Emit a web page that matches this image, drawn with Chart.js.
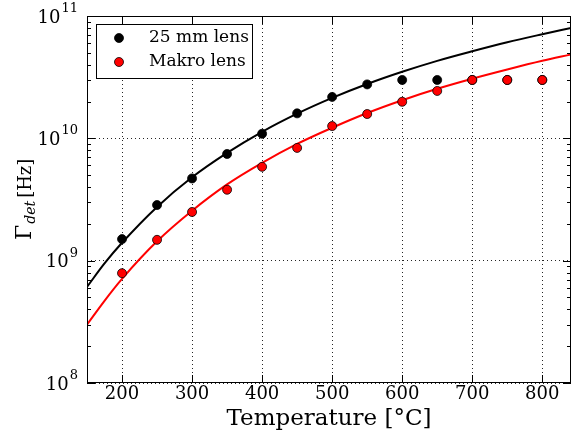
<!DOCTYPE html>
<html>
<head>
<meta charset="utf-8">
<script src="https://cdn.jsdelivr.net/npm/chart.js@4"></script>
<style>
  html, body { margin: 0; padding: 0; background: #fff; }
</style>
</head>
<body>
<canvas id="chart" width="572" height="436"></canvas>
<script>
// measured points
const temps = [200, 250, 300, 350, 400, 450, 500, 550, 600, 650, 700, 750, 800];
const lens25 = [1.5e9, 2.85e9, 4.7e9, 7.45e9, 1.09e10, 1.6e10, 2.18e10, 2.76e10, 3.0e10, 3.0e10, 3.0e10, 3.0e10, 3.0e10];
const makro = [7.9e8, 1.48e9, 2.5e9, 3.8e9, 5.85e9, 8.35e9, 1.26e10, 1.58e10, 1.99e10, 2.44e10, 3.0e10, 3.0e10, 3.0e10];

// fitted curves
const fitT = [150, 175, 200, 250, 300, 350, 400, 450, 500, 550, 600, 650, 700, 750, 800, 841];
const fit25 = [6.1e8, 9.5e8, 1.4e9, 2.75e9, 4.8e9, 7.6e9, 1.13e10, 1.59e10, 2.14e10, 2.78e10, 3.5e10, 4.3e10, 5.15e10, 6.1e10, 7.1e10, 8.0e10];
const fitMakro = [3.0e8, 4.7e8, 7.1e8, 1.44e9, 2.56e9, 4.2e9, 6.3e9, 9.0e9, 1.22e10, 1.61e10, 2.05e10, 2.54e10, 3.07e10, 3.65e10, 4.3e10, 4.85e10];

const xTicks = [200, 300, 400, 500, 600, 700, 800];
const yTicks = [1e8, 1e9, 1e10, 1e11];
const legendLabels = ["25 mm lens", "Makro lens"];

const serif = "'DejaVu Serif', serif";
const pts = (xs, ys) => xs.map((x, i) => ({ x: x, y: ys[i] }));

// frame, inward ticks, y tick labels, legend box and y title
const decorations = {
  id: "decorations",
  afterDraw(chart) {
    const { ctx, chartArea: a, scales: { x, y } } = chart;
    ctx.save();
    ctx.strokeStyle = "#000";
    ctx.lineWidth = 1;
    ctx.strokeRect(a.left + 0.5, a.top + 0.5, a.right - a.left - 1, a.bottom - a.top - 1);

    const seg = (x1, y1, x2, y2) => {
      ctx.beginPath(); ctx.moveTo(x1, y1); ctx.lineTo(x2, y2); ctx.stroke();
    };
    xTicks.forEach(v => {
      const px = Math.round(x.getPixelForValue(v)) + 0.5;
      seg(px, a.bottom, px, a.bottom - 8);
      seg(px, a.top, px, a.top + 8);
    });
    yTicks.forEach((v, i) => {
      const py = Math.round(y.getPixelForValue(v)) + 0.5;
      seg(a.left, py, a.left + 8, py);
      seg(a.right, py, a.right - 8, py);
      if (i === yTicks.length - 1) return;
      for (let m = 2; m < 10; m++) {
        const pm = Math.round(y.getPixelForValue(v * m)) + 0.5;
        seg(a.left, pm, a.left + 4, pm);
        seg(a.right, pm, a.right - 4, pm);
      }
    });

    // y tick labels as 10 with a raised exponent
    ctx.fillStyle = "#000";
    ctx.textBaseline = "alphabetic";
    ctx.textAlign = "left";
    y.ticks.forEach(t => {
      const py = y.getPixelForValue(t.value);
      const exp = String(Math.round(Math.log10(t.value)));
      ctx.font = "13px " + serif;
      const we = ctx.measureText(exp).width;
      ctx.font = "18px " + serif;
      const wb = ctx.measureText("10").width;
      const right = a.left - 9;
      ctx.fillText("10", right - we - 1 - wb, py + 6.5);
      ctx.font = "13px " + serif;
      ctx.fillText(exp, right - we, py - 4);
    });

    // legend
    const lx = a.left + 9, ly = a.top + 8;
    ctx.fillStyle = "#fff";
    ctx.fillRect(lx, ly, 156, 54);
    ctx.strokeRect(lx + 0.5, ly + 0.5, 156, 54);
    const colors = ["#000", "#ff0000"];
    legendLabels.forEach((t, i) => {
      const cy = ly + 14 + i * 24;
      ctx.beginPath();
      ctx.arc(lx + 23, cy, 4.5, 0, Math.PI * 2);
      ctx.fillStyle = colors[i];
      ctx.fill();
      ctx.strokeStyle = "#000";
      ctx.lineWidth = 0.8;
      ctx.stroke();
      ctx.fillStyle = "#000";
      ctx.font = "17px " + serif;
      ctx.textBaseline = "middle";
      ctx.fillText(t, lx + 53, cy);
    });

    // y axis title: Γ_det [Hz]
    ctx.translate(31, 240);
    ctx.rotate(-Math.PI / 2);
    ctx.fillStyle = "#000";
    ctx.textBaseline = "alphabetic";
    ctx.font = "22px " + serif;
    const w1 = ctx.measureText("Γ").width;
    ctx.fillText("Γ", 0, 0);
    ctx.font = "italic 14px " + serif;
    const w2 = ctx.measureText("det").width;
    ctx.fillText("det", w1 + 1, 4);
    ctx.font = "18px " + serif;
    ctx.fillText("[Hz]", w1 + w2 + 4, 0);
    ctx.restore();
  }
};

new Chart(document.getElementById("chart"), {
  type: "line",
  data: {
    datasets: [
      {
        label: "Makro lens",
        data: pts(temps, makro),
        showLine: false,
        backgroundColor: "#ff0000",
        borderColor: "#000",
        borderWidth: 0.8,
        pointRadius: 4.5,
        order: 0,
      },
      {
        label: "25 mm lens",
        data: pts(temps, lens25),
        showLine: false,
        backgroundColor: "#000",
        borderColor: "#000",
        borderWidth: 0.8,
        pointRadius: 4.5,
        order: 1,
      },
      {
        label: "fit makro",
        data: pts(fitT, fitMakro),
        borderColor: "#ff0000",
        borderWidth: 2,
        pointRadius: 0,
        cubicInterpolationMode: "monotone",
        order: 2,
      },
      {
        label: "fit 25",
        data: pts(fitT, fit25),
        borderColor: "#000",
        borderWidth: 2,
        pointRadius: 0,
        cubicInterpolationMode: "monotone",
        order: 3,
      },
    ],
  },
  options: {
    responsive: false,
    animation: false,
    layout: { autoPadding: false, padding: { top: 16, right: 1, left: 0, bottom: 0 } },
    plugins: {
      legend: { display: false },
      tooltip: { enabled: false },
    },
    scales: {
      x: {
        type: "linear",
        min: 150,
        max: 841,
        afterBuildTicks: s => { s.ticks = xTicks.map(v => ({ value: v })); },
        afterFit: s => { s.height = 53; s.paddingLeft = 0; s.paddingRight = 0; },
        grid: { color: "rgba(0,0,0,0.85)", lineWidth: 1, drawTicks: false },
        border: { display: false, dash: [1, 3] },
        ticks: { color: "#000", font: { family: serif, size: 18 }, padding: 1, maxRotation: 0 },
        title: {
          display: true,
          text: "Temperature [°C]",
          color: "#000",
          font: { family: serif, size: 23 },
          padding: { top: 0, bottom: 3 },
        },
      },
      y: {
        type: "logarithmic",
        min: 1e8,
        max: 1e11,
        afterBuildTicks: s => { s.ticks = yTicks.map(v => ({ value: v })); },
        afterFit: s => { s.width = 87; s.paddingTop = 0; s.paddingBottom = 0; },
        grid: { color: "rgba(0,0,0,0.85)", lineWidth: 1, drawTicks: false },
        border: { display: false, dash: [1, 3] },
        ticks: { display: false },
      },
    },
  },
  plugins: [decorations],
});
</script>
</body>
</html>
